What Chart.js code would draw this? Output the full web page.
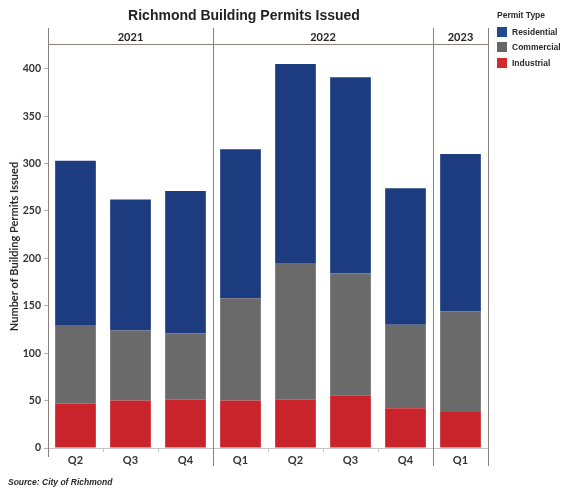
<!DOCTYPE html>
<html>
<head>
<meta charset="utf-8">
<script src="https://cdn.jsdelivr.net/npm/chart.js@4.4.1/dist/chart.umd.min.js"></script>
<style>
  html, body { margin: 0; padding: 0; background: #ffffff; }
  #wrap { position: relative; width: 562px; height: 493px; background: #fff; }
  #legend { position: absolute; left: 497px; top: 9px; font-family: 'Liberation Sans', Arial, sans-serif; color: #2a2a2a; }
  #legend .lt { font-weight: bold; font-size: 8.5px; height: 12px; line-height: 12px; margin-bottom: 3px; }
  #legend .it { display: flex; align-items: center; height: 15.5px; font-size: 8.5px; font-weight: bold; }
  #legend .bx { width: 10px; height: 10px; margin-right: 5px; }
  #source { position: absolute; left: 8px; top: 477px; font-family: 'Liberation Sans', Arial, sans-serif; font-size: 8.5px; font-weight: bold; font-style: italic; color: #2a2a2a; }
</style>
</head>
<body>
<div id="wrap">
  <canvas id="c" width="562" height="493"></canvas>
  <div id="legend"></div>
  <div id="source"></div>
</div>
<script>
const chartTitle = 'Richmond Building Permits Issued';
const yAxisTitle = 'Number of Building Permits Issued';
const legendTitle = 'Permit Type';
const sourceText = 'Source: City of Richmond';

const quarters = ['Q2', 'Q3', 'Q4', 'Q1', 'Q2', 'Q3', 'Q4', 'Q1'];
const years = ['2021', '2022', '2023'];
const quartersPerYear = [3, 4, 1];

const industrial  = [47, 50, 51, 50, 51, 55, 42, 38];
const commercial  = [82, 74, 70, 108, 144, 129, 88, 106];
const residential = [174, 138, 150, 157, 210, 207, 144, 166];

const seriesNames = ['Industrial', 'Commercial', 'Residential'];
const seriesColors = ['#c9232b', '#6b6a6a', '#1d3c80'];
const legendColors = { Residential: '#1f4a92', Commercial: '#666666', Industrial: '#d12a2c' };

const lineColor = '#8c807b';

const yearBand = {
  id: 'yearBand',
  afterDraw(chart) {
    const { ctx, chartArea } = chart;
    const xs = chart.scales.x;
    const top = 28, bandY = 44;
    const n = quarters.length;
    const bound = (i) => {
      if (i <= 0) return chartArea.left;
      if (i >= n) return chartArea.right;
      return (xs.getPixelForValue(i - 1) + xs.getPixelForValue(i)) / 2;
    };
    ctx.save();
    ctx.strokeStyle = lineColor;
    ctx.lineWidth = 1;
    ctx.beginPath();
    ctx.moveTo(chartArea.left, bandY + 0.5);
    ctx.lineTo(chartArea.right, bandY + 0.5);
    ctx.stroke();
    ctx.beginPath();
    ctx.moveTo(Math.round(chartArea.left) + 0.5, top);
    ctx.lineTo(Math.round(chartArea.left) + 0.5, chartArea.bottom + 9);
    ctx.stroke();
    let idx = 0;
    ctx.fillStyle = '#222';
    ctx.font = 'bold 11px Lato, "Liberation Sans", sans-serif';
    ctx.textAlign = 'center';
    ctx.textBaseline = 'middle';
    years.forEach((yr, k) => {
      const x0 = bound(idx);
      const x1 = bound(idx + quartersPerYear[k]);
      ctx.fillText(yr, (x0 + x1) / 2, 37);
      idx += quartersPerYear[k];
      ctx.beginPath();
      ctx.moveTo(Math.round(x1) + 0.5, top);
      ctx.lineTo(Math.round(x1) + 0.5, chartArea.bottom + 18);
      ctx.stroke();
    });
    ctx.restore();
  }
};

const ctx = document.getElementById('c').getContext('2d');
new Chart(ctx, {
  type: 'bar',
  data: {
    labels: quarters,
    datasets: [
      { label: seriesNames[0], data: industrial,  backgroundColor: seriesColors[0] },
      { label: seriesNames[1], data: commercial,  backgroundColor: seriesColors[1] },
      { label: seriesNames[2], data: residential, backgroundColor: seriesColors[2] }
    ]
  },
  options: {
    responsive: false,
    animation: false,
    devicePixelRatio: 1,
    layout: { padding: { left: 0, right: 74, top: 0, bottom: 0 } },
    datasets: { bar: { barPercentage: 0.74, categoryPercentage: 1.0, borderWidth: 0 } },
    plugins: {
      legend: { display: false },
      tooltip: { enabled: false },
      title: {
        display: true,
        text: chartTitle,
        color: '#222',
        font: { family: '"Liberation Sans", Arial, sans-serif', size: 14, weight: 'bold' },
        padding: { top: 8, bottom: 20.2 }
      }
    },
    scales: {
      x: {
        stacked: true,
        afterFit(s) { s.height = 45; },
        grid: { offset: true, drawOnChartArea: false, tickLength: 4, color: '#c4c4c4' },
        border: { color: '#c4c4c4' },
        ticks: { color: '#333', padding: 2, font: { family: 'Lato, sans-serif', size: 11, weight: 'bold' } }
      },
      y: {
        stacked: true,
        min: 0,
        max: 425,
        afterFit(s) { s.width = 48; },
        afterBuildTicks(s) { s.ticks = s.ticks.filter(t => t.value % 50 === 0); },
        grid: { drawOnChartArea: false, tickLength: 4, color: '#b0b0b0' },
        border: { display: false },
        ticks: { stepSize: 50, color: '#333', padding: 3, font: { family: 'Lato, sans-serif', size: 10.5, weight: 'bold' } },
        title: {
          display: true,
          text: yAxisTitle,
          color: '#2a2a2a',
          font: { family: 'Lato, sans-serif', size: 11, weight: 'bold' },
          padding: { top: 8, bottom: 0 }
        }
      }
    }
  },
  plugins: [yearBand]
});

const lg = document.getElementById('legend');
const lt = document.createElement('div');
lt.className = 'lt';
lt.textContent = legendTitle;
lg.appendChild(lt);
seriesNames.slice().reverse().forEach(name => {
  const it = document.createElement('div');
  it.className = 'it';
  const bx = document.createElement('div');
  bx.className = 'bx';
  bx.style.background = legendColors[name];
  const tx = document.createElement('span');
  tx.textContent = name;
  it.appendChild(bx);
  it.appendChild(tx);
  lg.appendChild(it);
});
document.getElementById('source').textContent = sourceText;
</script>
</body>
</html>
